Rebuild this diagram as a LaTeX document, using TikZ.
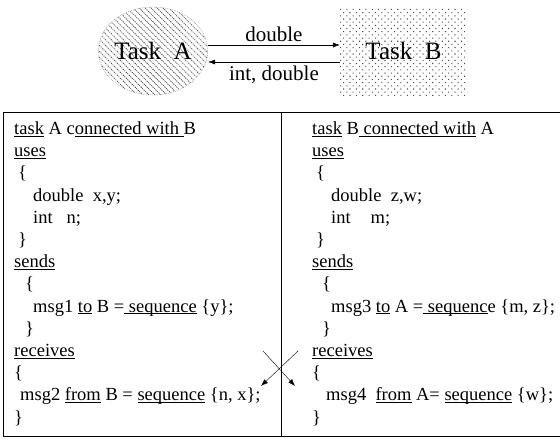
\documentclass[tikz,border=0pt]{standalone}
\usepackage{fontspec}
\setmainfont{Liberation Serif}
\usetikzlibrary{shapes.geometric,patterns,patterns.meta,arrows.meta}

\newcommand{\uline}[1]{\underline{\smash{#1}}}

\tikzset{
  code/.style={anchor=base west, inner sep=0pt, font=\fontsize{18.5}{22}\selectfont},
  msglabel/.style={font=\fontsize{21}{24}\selectfont},
  taskname/.style={font=\fontsize{25}{28}\selectfont},
  msgarrow/.style={-{Latex[length=7pt,width=5pt]}}
}

\begin{document}
\begin{tikzpicture}[x=1pt,y=-1pt]
        \useasboundingbox (0,0) rectangle (560,439);
        % Tasks
        \node[taskname, ellipse, minimum width=100pt, minimum height=88pt, inner sep=0pt,
              draw=gray, densely dotted,
              pattern={Lines[angle=-45,distance=4.2pt,line width=.8pt]}, pattern color=black!70]
              (taskA) at (153,51) {Task\ \ A};
        \node[taskname, rectangle, minimum width=127pt, minimum height=88pt, inner sep=0pt,
              pattern={Dots[angle=45,distance=4.5pt,radius=.75pt]}, pattern color=black!70]
              (taskB) at (403.5,51) {Task\ \ B};
        % Messages between the tasks
        \draw[msgarrow] ([yshift=6pt]taskA.east) -- ([yshift=6pt]taskB.west)
              node[msglabel, midway, above] (lblAB) {double};
        \draw[msgarrow] ([yshift=-11pt]taskB.west) -- ([yshift=-11pt]taskA.east)
              node[msglabel, midway, below] (lblBA) {int, double};
        % Frame of the two programs
        \draw (3,112) rectangle (562,436);
        \draw (281,112) -- (281,436);
        % Program of task A
        \node[code] (a1)  at (14,134.5)  {\uline{task} A c\uline{onnected with\ }B};
        \node[code] (a2)  at (14,156.7)  {\uline{uses}};
        \node[code] (a3)  at (18,178.9)  {\{};
        \node[code] (a4)  at (33,201.1)  {double\ \ x,y;};
        \node[code] (a5)  at (33,223.3)  {int\hspace{14pt}n;};
        \node[code] (a6)  at (18,245.5)  {\}};
        \node[code] (a7)  at (14,267.7)  {\uline{sends}};
        \node[code] (a8)  at (25,289.9)  {\{};
        \node[code] (a9)  at (33,312.1)  {msg1 \uline{to} B =\uline{\ sequence} \{y\};};
        \node[code] (a10) at (25,334.3)  {\}};
        \node[code] (a11) at (14,356.5)  {\uline{receives}};
        \node[code] (a12) at (14,378.7)  {\{};
        \node[code] (a13) at (20,400.9)  {msg2 \uline{from} B = \uline{sequence} \{n, x\};};
        \node[code] (a14) at (14,423.1)  {\}};
        % Program of task B
        \node[code] (b1)  at (312,134.5) {\uline{task} B\uline{\ connected with} A};
        \node[code] (b2)  at (312,156.7) {\uline{uses}};
        \node[code] (b3)  at (316,178.9) {\{};
        \node[code] (b4)  at (331,201.1) {double\ \ z,w;};
        \node[code] (b5)  at (331,223.3) {int\hspace{20pt}m;};
        \node[code] (b6)  at (316,245.5) {\}};
        \node[code] (b7)  at (312,267.7) {\uline{sends}};
        \node[code] (b8)  at (322,289.9) {\{};
        \node[code] (b9)  at (331,312.1) {msg3 \uline{to} A =\uline{\ sequenc}e \{m, z\};};
        \node[code] (b10) at (322,334.3) {\}};
        \node[code] (b11) at (312,356.5) {\uline{receives}};
        \node[code] (b12) at (312,378.7) {\{};
        \node[code] (b13) at (326,400.9) {msg4\ \ \uline{from} A= \uline{sequence} \{w\};};
        \node[code] (b14) at (312,423.1) {\}};
        % Crossing arrows
        \coordinate (crossA) at (263,351);
        \coordinate (crossB) at (298,351);
        \coordinate (toA) at (261,386);
        \coordinate (toB) at (295,386);
        \draw[msgarrow] (crossB) -- (toA);
        \draw[msgarrow] (crossA) -- (toB);
\end{tikzpicture}
\end{document}
